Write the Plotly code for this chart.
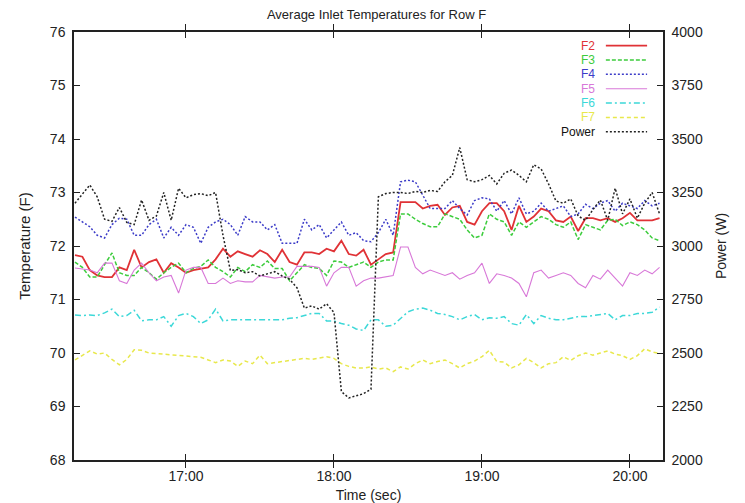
import pandas as pd
import plotly.graph_objects as go

# time axis: samples every 3 minutes starting 16:15
times = pd.date_range("2008-01-01 16:15", periods=80, freq="3min")

f2 = [71.83, 71.8, 71.55, 71.45, 71.42, 71.42, 71.6, 71.55, 71.93, 71.6,
      71.7, 71.75, 71.5, 71.68, 71.6, 71.5, 71.55, 71.58, 71.6, 71.75,
      71.95, 71.8, 71.9, 71.85, 71.8, 71.92, 71.85, 71.7, 71.93, 71.7,
      71.65, 71.88, 71.88, 71.85, 71.95, 71.9, 72.1, 71.85, 71.82, 71.93,
      71.65, 71.75, 71.85, 71.88, 72.82, 72.82, 72.82, 72.7, 72.75, 72.77,
      72.58, 72.72, 72.75, 72.45, 72.4, 72.65, 72.8, 72.8, 72.65, 72.3,
      72.75, 72.45, 72.55, 72.7, 72.65, 72.48, 72.45, 72.55, 72.28, 72.52,
      72.52, 72.48, 72.52, 72.45, 72.52, 72.62, 72.48, 72.48, 72.48, 72.52]

f3 = [71.7, 71.6, 71.42, 71.42, 71.65, 71.87, 71.5, 71.45, 71.45, 71.6,
      71.5, 71.38, 71.5, 71.6, 71.68, 71.5, 71.58, 71.62, 71.74, 71.6,
      71.52, 71.42, 71.6, 71.52, 71.65, 71.6, 71.72, 71.58, 71.58, 71.35,
      71.5, 71.65, 71.6, 71.58, 71.45, 71.72, 71.7, 71.6, 71.65, 71.7,
      71.6, 71.7, 71.74, 71.74, 72.6, 72.6, 72.5, 72.42, 72.36, 72.36,
      72.6, 72.55, 72.5, 72.3, 72.15, 72.2, 72.6, 72.5, 72.45, 72.2,
      72.45, 72.35, 72.45, 72.55, 72.5, 72.4, 72.35, 72.45, 72.12, 72.4,
      72.35, 72.3, 72.48, 72.5, 72.38, 72.45, 72.4, 72.3, 72.15, 72.1]

f4 = [72.54, 72.45, 72.36, 72.2, 72.15, 72.4, 72.52, 72.5, 72.2, 72.2,
      72.4, 72.5, 72.15, 72.35, 72.2, 72.4, 72.35, 72.05, 72.35, 72.45,
      72.5, 72.4, 72.2, 72.55, 72.45, 72.45, 72.3, 72.4, 72.05, 72.05,
      72.05, 72.5, 72.3, 72.4, 72.15, 72.3, 72.45, 72.2, 72.25, 72.1,
      72.08, 72.25, 72.5, 72.2, 73.2, 73.23, 73.2, 72.95, 72.7, 72.7,
      72.7, 72.85, 72.7, 72.58, 72.85, 72.9, 72.88, 72.65, 72.85, 72.6,
      72.9, 72.6, 72.65, 72.8, 72.65, 72.7, 72.75, 72.55, 72.6, 72.78,
      72.7, 72.8, 72.85, 72.65, 72.8, 72.75, 72.7, 72.85, 72.75, 72.8]

f5 = [71.59, 71.57, 71.55, 71.5, 71.68, 71.68, 71.35, 71.3, 71.55, 71.68,
      71.5, 71.35, 71.42, 71.45, 71.12, 71.55, 71.6, 71.6, 71.3, 71.3,
      71.4, 71.3, 71.35, 71.33, 71.33, 71.45, 71.42, 71.4, 71.42, 71.42,
      71.62, 71.62, 71.62, 71.6, 71.25, 71.5, 71.6, 71.6, 71.25, 71.35,
      71.4, 71.4, 71.42, 71.45, 71.98, 71.98, 71.6, 71.48, 71.55, 71.5,
      71.45, 71.5, 71.38, 71.45, 71.5, 71.68, 71.3, 71.48, 71.45, 71.4,
      71.3, 71.05, 71.5, 71.55, 71.4, 71.45, 71.5, 71.45, 71.3, 71.22,
      71.45, 71.38, 71.55, 71.4, 71.25, 71.5, 71.45, 71.55, 71.48, 71.6]

f6 = [70.71, 70.7, 70.71, 70.7, 70.75, 70.82, 70.68, 70.7, 70.8, 70.6,
      70.62, 70.62, 70.68, 70.5, 70.7, 70.74, 70.68, 70.55, 70.62, 70.82,
      70.6, 70.62, 70.62, 70.62, 70.62, 70.62, 70.62, 70.62, 70.62, 70.65,
      70.66, 70.7, 70.74, 70.74, 70.6, 70.6, 70.55, 70.52, 70.45, 70.42,
      70.62, 70.62, 70.5, 70.52, 70.65, 70.77, 70.82, 70.84, 70.8, 70.74,
      70.72, 70.68, 70.62, 70.68, 70.72, 70.62, 70.66, 70.65, 70.68, 70.55,
      70.52, 70.72, 70.55, 70.7, 70.65, 70.62, 70.62, 70.65, 70.68, 70.68,
      70.7, 70.72, 70.74, 70.62, 70.7, 70.7, 70.74, 70.74, 70.76, 70.86]

f7 = [69.87, 69.95, 70.04, 69.98, 70.0, 69.88, 69.78, 69.88, 70.06, 70.05,
      70.0, 69.99, 69.98, 69.96, 69.95, 69.94, 69.93, 69.92, 69.87, 69.82,
      69.87, 69.85, 69.75, 69.85, 69.8, 69.96, 69.8, 69.82, 69.84, 69.87,
      69.88, 69.9, 69.88, 69.9, 69.93, 69.9, 69.8, 69.75, 69.72, 69.72,
      69.74, 69.7, 69.72, 69.65, 69.74, 69.7, 69.8, 69.87, 69.8, 69.84,
      69.87, 69.8, 69.72, 69.8, 69.85, 69.93, 70.05, 69.84, 69.83, 69.72,
      69.78, 69.9, 69.82, 69.72, 69.8, 69.82, 69.93, 69.86, 69.95, 70.0,
      69.96, 70.0, 70.04, 69.98, 69.95, 69.88, 69.95, 70.08, 70.02, 69.99]

power = [3200, 3240, 3285, 3230, 3125, 3115, 3180, 3110, 3100, 3215,
         3120, 3140, 3250, 3120, 3270, 3225, 3240, 3245, 3235, 3250,
         3050, 2885, 2890, 2875, 2880, 2860, 2870, 2880, 2860, 2845,
         2805, 2710, 2720, 2705, 2730, 2690, 2320, 2290, 2300, 2310,
         2330, 3230, 3245, 3250, 3250, 3245, 3255, 3250, 3260, 3255,
         3300, 3330, 3460, 3310, 3300, 3310, 3330, 3290, 3340, 3355,
         3330, 3300, 3380, 3360, 3290, 3210, 3200, 3220, 3140, 3120,
         3170, 3215, 3120, 3270, 3150, 3220, 3130, 3200, 3250, 3150]

names = ["F2", "F3", "F4", "F5", "F6", "F7", "Power"]
colors = ["#e03236", "#3ccc3c", "#3c3cc8", "#d878d8", "#3cd8d8", "#e8e84c", "#222222"]
dashes = ["solid", "4px,2px", "2px,2px", "solid", "6px,3px,2px,3px", "4px,3px", "2px,2px"]
widths = [1.8, 1.5, 1.5, 1.1, 1.5, 1.5, 1.5]

fig = go.Figure()
temps = [f2, f3, f4, f5, f6, f7]
for i, s in enumerate(temps):
    fig.add_trace(go.Scatter(x=times, y=s, mode="lines", name=names[i],
                             line=dict(color=colors[i], dash=dashes[i], width=widths[i]),
                             showlegend=False))
fig.add_trace(go.Scatter(x=times, y=power, mode="lines", name="Power", yaxis="y2",
                         line=dict(color=colors[6], dash=dashes[6], width=widths[6]),
                         showlegend=False))

# gnuplot style key (text right-aligned, sample to the right)
font = "Liberation Sans, Arial, sans-serif"
key_top = 0.968
key_step = 0.0335
for i, n in enumerate(names):
    yk = key_top - i * key_step
    fig.add_annotation(xref="paper", yref="paper", x=0.888, y=yk, text=n,
                       showarrow=False, xanchor="right", yanchor="middle",
                       font=dict(family=font, size=12,
                                 color=colors[i] if n != "Power" else "#111111"))
    fig.add_shape(type="line", xref="paper", yref="paper",
                  x0=0.903, x1=0.973, y0=yk, y1=yk,
                  line=dict(color=colors[i], dash=dashes[i], width=widths[i]))

axis_common = dict(showgrid=False, zeroline=False, showline=True, linecolor="#222222",
                   linewidth=1.5, ticks="inside", ticklen=6, tickcolor="#222222",
                   automargin=False,
                   tickfont=dict(family=font, size=14, color="#222222"))

# the page body adds an 8px offset, so the figure is sized to fit the window
fig.update_layout(
    width=737, height=495,
    margin=dict(l=66, r=82, t=24, b=43),
    paper_bgcolor="white", plot_bgcolor="white",
    font=dict(family=font, size=12, color="#222222"),
    title=dict(text="Average Inlet Temperatures for Row F", x=0.5, xanchor="center",
               y=0.996, yanchor="top", yref="container", pad=dict(t=0, b=0),
               font=dict(family=font, size=13, color="#222222")),
    xaxis=dict(range=["2008-01-01 16:14:36", "2008-01-01 20:13:24"],
               tickformat="%H:%M", dtick=3600000,
               tick0="2008-01-01 17:00", mirror="allticks", ticklabelstandoff=2,
               title=dict(text="Time (sec)", standoff=8,
                          font=dict(family=font, size=14)),
               **axis_common),
    yaxis=dict(range=[68, 76], dtick=1, mirror=True, ticklabelstandoff=4,
               title=dict(text="Temperature (F)", standoff=16,
                          font=dict(family=font, size=15)),
               **axis_common),
    yaxis2=dict(range=[2000, 4000], dtick=250, overlaying="y", side="right",
                ticklabelstandoff=4,
                title=dict(text="Power (W)", standoff=14,
                           font=dict(family=font, size=14)),
                **axis_common),
)

fig.write_html("out.html")
